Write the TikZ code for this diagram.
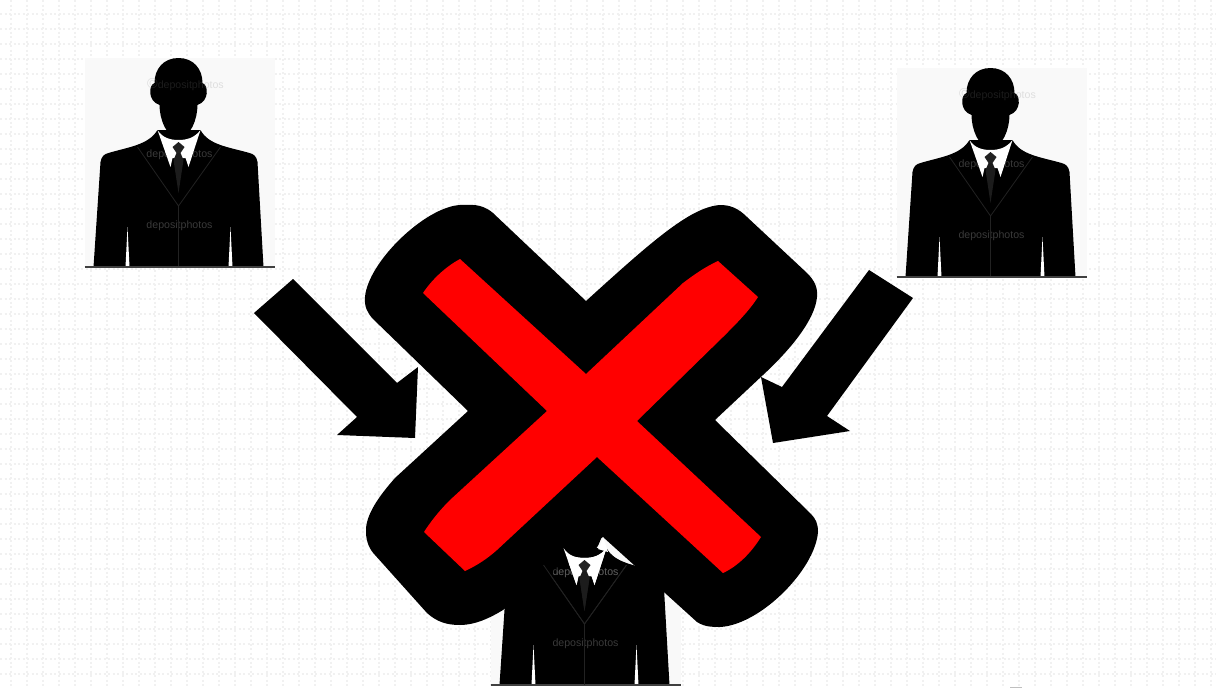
\documentclass[tikz,border=0pt]{standalone}
\usepackage{fontspec}
\setmainfont{Liberation Sans}
\definecolor{cardgrey}{HTML}{F9F9F9}
\definecolor{tiegrey}{HTML}{1C1C1C}
\definecolor{lapelgrey}{HTML}{222222}
\definecolor{gridgrey}{HTML}{F1F1F1}
\definecolor{crossred}{HTML}{FF0000}

\tikzset{
  gridline/.style={draw=gridgrey, line width=1.6pt, dash pattern=on 2pt off 2.5pt},
  silhouette/.style={fill=black, draw=none},
  watermark/.style={font=\fontsize{10.6}{12}\selectfont, text=gray, inner sep=0pt},
  % shirt, tie, lapels and the middle watermark: also redrawn over the cross
  person front/.pic={
    \draw[lapelgrey, line width=0.8pt] (-41,-120) -- (0,-61) -- (42,-120);
    \draw[lapelgrey, line width=0.8pt] (0,-61) -- (0,0);
    \node[watermark, text opacity=0.45] (mid) at (1,-112) {depositphotos};
    \fill[white] (-21,-137) .. controls (-16,-129) and (-8,-127) .. (0,-127)
      .. controls (8,-127) and (16,-129) .. (22,-137)
      -- (10,-100) -- (7,-109) -- (-6,-109) -- (-8,-100) -- cycle;
    \fill[lapelgrey] (0,-125) -- (-6,-120) -- (-2,-114) -- (2,-114) -- (6,-120) -- cycle;
    \fill[tiegrey] (-2,-114) -- (-5,-107) -- (0,-74) -- (5,-107) -- (2,-114) -- cycle;
  },
  person/.pic={
    \fill[cardgrey] (-94,-209) rectangle (96,0);
    % suit
    \fill[silhouette] (-85,0) -- (-78,-105) .. controls (-77,-111) and (-74,-113) .. (-70,-114)
      .. controls (-50,-120) and (-30,-122) .. (-21,-137) -- (22,-137)
      .. controls (30,-122) and (50,-120) .. (71,-114)
      .. controls (75,-113) and (78,-111) .. (79,-105) -- (85,0) -- cycle;
    \fill[white] (-53,0) -- (-51,-40) -- (-49,0) -- cycle;
    \fill[white] (50,0) -- (52,-40) -- (54,0) -- cycle;
    % head
    \fill[silhouette] (0,-209) .. controls (-15,-209) and (-24,-198) .. (-24,-184)
      .. controls (-30,-182) and (-31,-166) .. (-19,-162)
      .. controls (-19,-148) and (-12,-129) .. (0,-129)
      .. controls (12,-129) and (19,-148) .. (19,-162)
      .. controls (31,-166) and (30,-182) .. (24,-184)
      .. controls (24,-198) and (15,-209) .. (0,-209) -- cycle;
    \node[watermark, text opacity=0.22] (top) at (7,-182) {{\Large\textcopyright}depositphotos};
    \node[watermark, text opacity=0.45] (low) at (1,-41) {depositphotos};
    \pic (front) {person front};
    \draw[black!75, line width=1.5pt] (-94,0) -- (96,0);
  },
}

\begin{document}
\begin{tikzpicture}[x=1pt, y=-1pt]
  \useasboundingbox (0,0) rectangle (1216,688);

  % Dotted sheet behind everything
  \foreach \gx in {11,27,...,1216} {
    \draw[gridline] (\gx,0) -- (\gx,688);
  }
  \foreach \gy in {14,29,...,688} {
    \draw[gridline] (0,\gy) -- (1216,\gy);
  }
  \draw[black!25, line width=0.8pt] (1010,687.5) -- (1022,687.5);

  % People
  \pic (left) at (178.5,267) {person};
  \pic (right) at (990.5,277) {person};
  \pic (bottom) at (584.5,685) {person};

  % Block arrows
  \fill[silhouette] (293,279) -- (254,313) -- (357,417) -- (337,435) -- (415,438)
    -- (418,367) -- (397,383) -- cycle;
  \fill[silhouette] (869,270) -- (913,298) -- (827,416) -- (850,431) -- (773,443)
    -- (761,377) -- (782,387) -- cycle;

  % Cross, black outline
  \fill[silhouette] (586,301) -- (493,213) .. controls (481,203) and (471,205) .. (460,205)
    .. controls (425,207) and (368,262) .. (365,297)
    .. controls (364,307) and (368,313) .. (372,318)
    -- (468,411) -- (395,478) .. controls (380,495) and (365,515) .. (366,532)
    .. controls (366,542) and (370,550) .. (375,555)
    -- (427,613) .. controls (437,622) and (447,625) .. (460,625)
    .. controls (475,625) and (490,618) .. (503,610)
    -- (603,537) -- (665,593) -- (697,622)
    .. controls (705,627) and (712,627) .. (720,627)
    .. controls (760,625) and (815,570) .. (818,532)
    .. controls (818,524) and (816,519) .. (811,514)
    -- (715,420) -- (763,375) .. controls (790,350) and (815,320) .. (817,297)
    .. controls (818,287) and (814,280) .. (807,273)
    -- (747,217) .. controls (738,208) and (730,205) .. (720,205)
    .. controls (690,207) and (650,243) .. (586,301) -- cycle;

  % Cross, red bars
  \fill[crossred] (586,374) -- (460,259) .. controls (447,266) and (433,278) .. (423,293)
    -- (547,411) -- (450,500) .. controls (440,510) and (431,521) .. (424,532)
    -- (465,571) .. controls (478,565) and (488,558) .. (497,550)
    -- (597,457) -- (723,573) .. controls (738,566) and (751,553) .. (761,537)
    -- (637,421) -- (723,337) .. controls (737,323) and (749,311) .. (758,297)
    -- (718,261) .. controls (705,267) and (695,274) .. (683,283) -- cycle;

  % Front of the lower person lies over the outline
  \pic (over) at (584.5,685) {person front};
  \fill[white] (598,549) .. controls (601,545) and (602,541) .. (603,537) -- (608,552) -- cycle;
\end{tikzpicture}
\end{document}
